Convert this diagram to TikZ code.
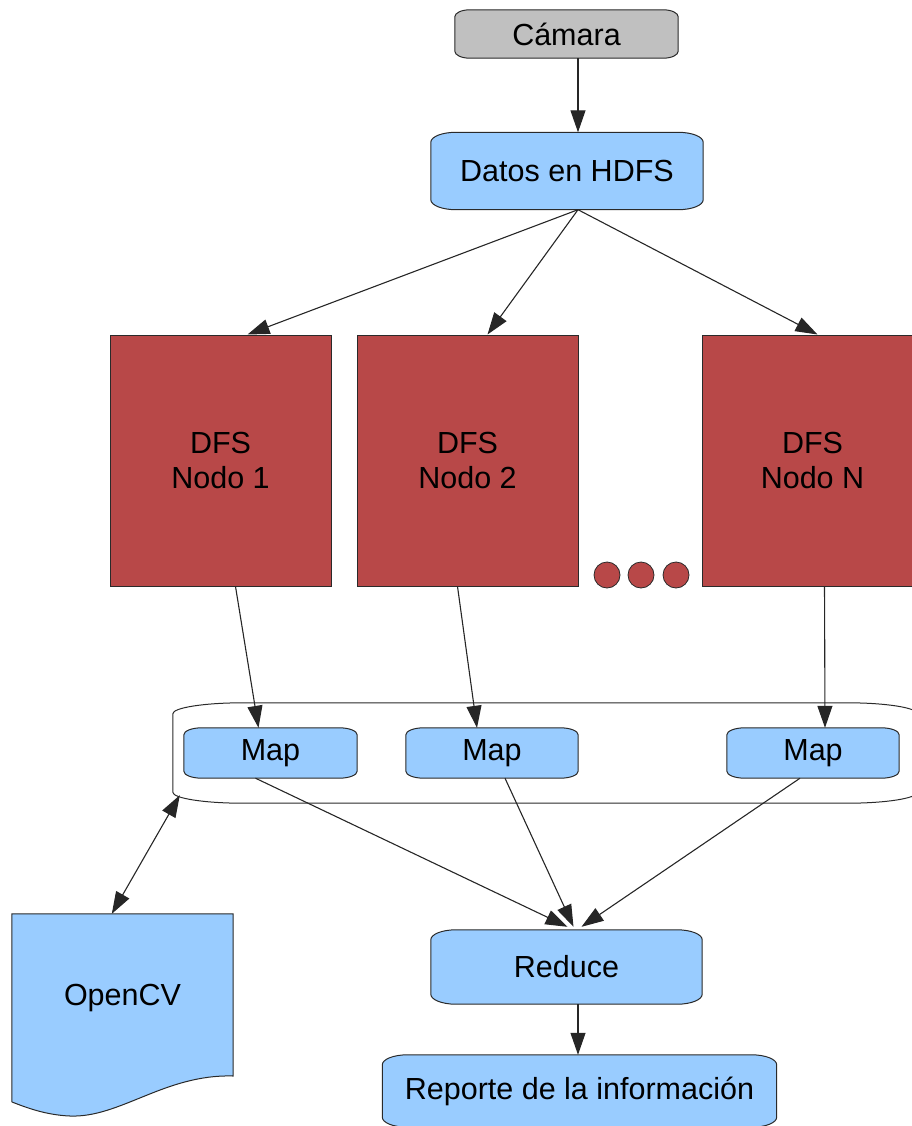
\documentclass[tikz,border=0pt]{standalone}
\usepackage{fontspec}
\setmainfont{Liberation Sans}
\usetikzlibrary{arrows.meta,backgrounds}
\definecolor{boxblue}{HTML}{99CCFF}
\definecolor{boxred}{HTML}{B84848}
\definecolor{boxgrey}{HTML}{C0C0C0}
\definecolor{edge}{HTML}{2A2A2A}
\newcommand\ellbox[4]{%
  \path[#4] ([yshift=-#3]#1.north west) arc[start angle=180,end angle=90,x radius=#2,y radius=#3]
   -- ([xshift=-#2]#1.north east) arc[start angle=90,end angle=0,x radius=#2,y radius=#3]
   -- ([yshift=#3]#1.south east) arc[start angle=0,end angle=-90,x radius=#2,y radius=#3]
   -- ([xshift=#2]#1.south west) arc[start angle=270,end angle=180,x radius=#2,y radius=#3]
   -- cycle;}
\tikzset{
  txt/.style={inner sep=0pt, font=\fontsize{30.5}{35}\selectfont, align=center, text=black},
  bluefill/.style={fill=boxblue, draw=edge, line width=1pt},
  greyfill/.style={fill=boxgrey, draw=edge, line width=1pt},
  dfsbox/.style={txt, fill=boxred, draw=edge, line width=1pt, minimum width=221pt, minimum height=251pt},
  dot/.style={circle, fill=boxred, draw=edge, line width=0.8pt, minimum size=26pt, inner sep=0pt},
  conn/.style={draw=black!85, line width=1.1pt, -{Triangle[length=22pt,width=15pt]}},
  bconn/.style={draw=black!85, line width=1.1pt, {Triangle[length=22pt,width=15pt]}-{Triangle[length=22pt,width=15pt]}},
}
\begin{document}
\begin{tikzpicture}[x=1pt,y=-1pt]
\useasboundingbox (0,0) rectangle (912,1126);
% nodes
\node[txt, minimum width=223pt, minimum height=48pt] (cam) at (566.5,34) {Cámara};
\node[txt, minimum width=272pt, minimum height=77pt] (dat) at (567,171) {Datos en HDFS};
\node[dfsbox] (n1) at (220.5,460.5) {DFS\\Nodo 1};
\node[dfsbox] (n2) at (467.5,460.5) {DFS\\Nodo 2};
\node[dfsbox] (nn) at (812.5,460.5) {DFS\\Nodo N};
\node[dot] (d1) at (607,575) {};
\node[dot] (d2) at (641,575) {};
\node[dot] (d3) at (676,575) {};
\node[minimum width=744pt, minimum height=100pt, inner sep=0pt] (frame) at (545,753) {};
\node[txt, minimum width=173pt, minimum height=50pt] (m1) at (270.5,753) {Map};
\node[txt, minimum width=172pt, minimum height=50pt] (m2) at (492,753) {Map};
\node[txt, minimum width=172pt, minimum height=50pt] (m3) at (813,753) {Map};
\node[txt, minimum width=271pt, minimum height=74pt] (red) at (566.5,967) {Reduce};
\node[txt, minimum width=394pt, minimum height=72pt] (rep) at (579.5,1091) {Reporte de la información};
\node[txt, minimum width=221pt, minimum height=168pt] (ocv) at (122.5,998) {OpenCV};
\coordinate (fr) at ([xshift=7pt,yshift=8pt]frame.south west);
% shapes behind text
\begin{scope}[on background layer]
  \ellbox{cam}{15pt}{7pt}{greyfill}
  \ellbox{dat}{25pt}{10pt}{bluefill}
  \ellbox{frame}{70pt}{11pt}{draw=edge, line width=1pt}
  \ellbox{m1}{18pt}{7pt}{bluefill}
  \ellbox{m2}{18pt}{7pt}{bluefill}
  \ellbox{m3}{18pt}{7pt}{bluefill}
  \ellbox{red}{25pt}{10pt}{bluefill}
  \ellbox{rep}{25pt}{10pt}{bluefill}
  \path[bluefill] (ocv.north west) -- (ocv.north east) -- (233,1076)
     .. controls (165,1074) and (120,1118) .. (70,1116)
     .. controls (45,1115) and (25,1107) .. (12,1102) -- cycle;
\end{scope}
% connectors
\draw[conn] ([xshift=11.5pt]cam.south) -- ([xshift=11pt]dat.north);
\draw[conn] ([xshift=11pt]dat.south) -- ([xshift=27pt]n1.north);
\draw[conn] ([xshift=11pt]dat.south) -- ([xshift=20pt]n2.north);
\draw[conn] ([xshift=11pt]dat.south) -- ([xshift=5pt]nn.north);
\draw[conn] ([xshift=15pt]n1.south) -- ([xshift=-12pt]m1.north);
\draw[conn] ([xshift=-10pt]n2.south) -- ([xshift=-15pt]m2.north);
\draw[conn] ([xshift=12pt]nn.south) -- ([xshift=12pt]m3.north);
\draw[conn] ([xshift=-15pt]m1.south) -- ([xshift=1pt,yshift=3pt]red.north);
\draw[conn] ([xshift=13pt]m2.south) -- ([xshift=7pt,yshift=3pt]red.north);
\draw[conn] ([xshift=-13pt]m3.south) -- ([xshift=15pt,yshift=3pt]red.north);
\draw[conn] ([xshift=11.5pt]red.south) -- ([xshift=-1.5pt]rep.north);
\draw[bconn] ([xshift=100pt]ocv.north west) -- (fr);
\end{tikzpicture}
\end{document}
